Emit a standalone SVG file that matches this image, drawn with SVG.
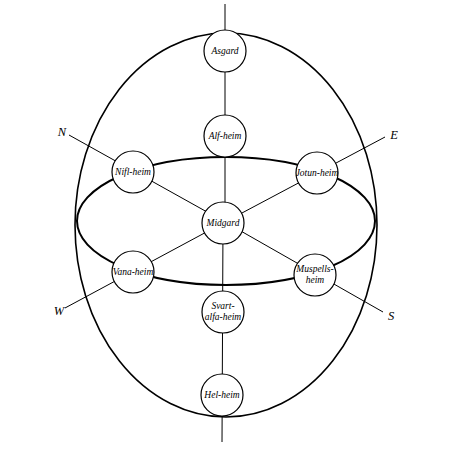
<svg xmlns="http://www.w3.org/2000/svg" width="450" height="450" viewBox="0 0 450 450">
<style>
.world circle{fill:#fff;stroke:#000;stroke-width:1.2}
.world text,.dir{font-family:"Liberation Serif","DejaVu Serif",serif;font-style:italic;font-size:9.5px;text-anchor:middle;fill:#000}
.dir{font-size:12.5px}
.ln{stroke:#000;stroke-width:1;fill:none}
.el{stroke:#000;fill:none}
</style>
<rect width="450" height="450" fill="#fff"/>
<g id="connectors">
<ellipse class="el" cx="226" cy="225" rx="151" ry="192" stroke-width="1.6"/>
<ellipse class="el" cx="226" cy="221" rx="149" ry="64" stroke-width="2"/>
<line class="ln" x1="225" y1="4" x2="225" y2="222"/>
<line class="ln" x1="223" y1="222" x2="222" y2="442"/>
<line class="ln" x1="69" y1="135" x2="225" y2="222"/>
<line class="ln" x1="385" y1="137" x2="225" y2="222"/>
<line class="ln" x1="65" y1="308" x2="225" y2="222"/>
<line class="ln" x1="383" y1="312" x2="225" y2="222"/>
</g>
<text class="dir" x="62" y="136">N</text>
<text class="dir" x="394" y="139">E</text>
<text class="dir" x="59" y="315">W</text>
<text class="dir" x="391" y="320">S</text>
<g id="asgard" class="world"><circle cx="225" cy="51" r="21"/><text x="225" y="54">Asgard</text></g>
<g id="alfheim" class="world"><circle cx="225" cy="136" r="21"/><text x="225" y="139">Alf-heim</text></g>
<g id="niflheim" class="world"><circle cx="133" cy="172" r="21"/><text x="133" y="175">Nifl-heim</text></g>
<g id="jotunheim" class="world"><circle cx="317" cy="173" r="21"/><text x="317" y="176">Jotun-heim</text></g>
<g id="midgard" class="world"><circle cx="223" cy="223" r="21"/><text x="223" y="226">Midgard</text></g>
<g id="vanaheim" class="world"><circle cx="133" cy="272" r="21"/><text x="133" y="275">Vana-heim</text></g>
<g id="muspellsheim" class="world"><circle cx="315" cy="275" r="21"/><text x="315" y="272">Muspells-</text><text x="315" y="283">heim</text></g>
<g id="svartalfaheim" class="world"><circle cx="223" cy="312" r="21"/><text x="223" y="309">Svart-</text><text x="223" y="320">alfa-heim</text></g>
<g id="helheim" class="world"><circle cx="222" cy="395" r="21"/><text x="222" y="398">Hel-heim</text></g>
</svg>
